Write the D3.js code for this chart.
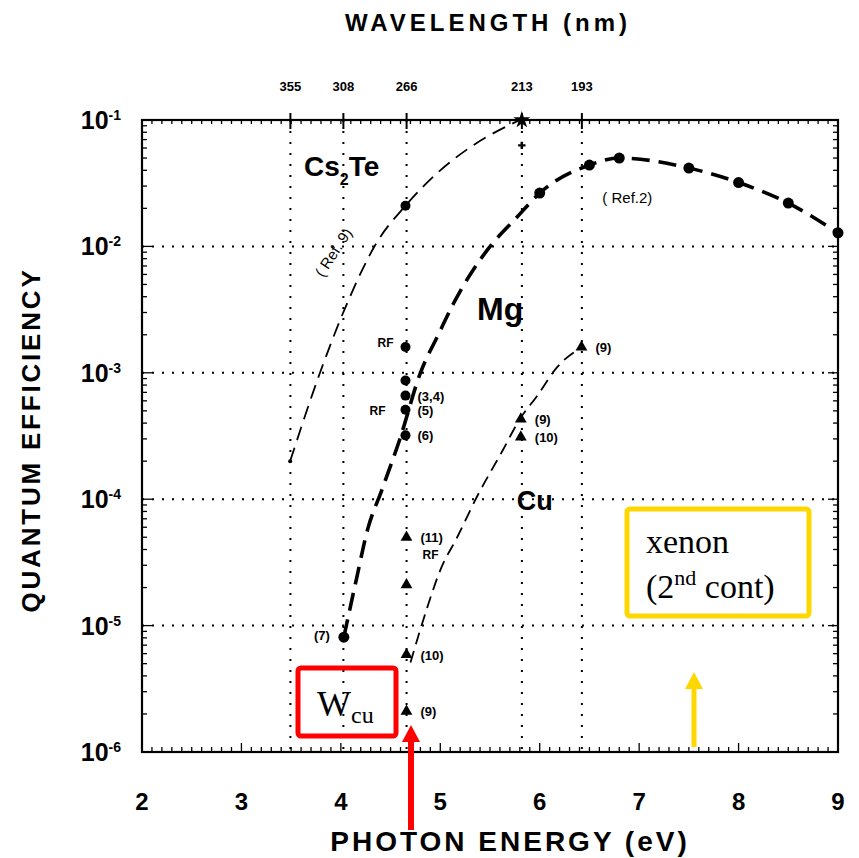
<!DOCTYPE html>
<html>
<head>
<meta charset="utf-8">
<script src="https://cdn.jsdelivr.net/npm/d3@7"></script>
<style>
  body { margin: 0; background: #fff; }
  svg { display: block; }
</style>
</head>
<body>
<div id="chart"></div>
<script>
// values (photon energy in eV, quantum efficiency)
const energyTicks = [2, 3, 4, 5, 6, 7, 8, 9];
const decades = [1e-6, 1e-5, 1e-4, 1e-3, 1e-2, 1e-1];
const decadeExp = [-6, -5, -4, -3, -2, -1];
const wavelengths = [355, 308, 266, 213, 193];

const cs2teCurve = [[3.49, 2.0e-4], [3.79, 1.0e-3], [4.06, 3.5e-3], [4.36, 1.07e-2],
  [4.65, 2.1e-2], [5.0, 4.0e-2], [5.33, 6.3e-2], [5.80, 1.0e-1]];
const cs2teDots = [[4.65, 2.1e-2]];
const cs2teCross = [[5.82, 6.3e-2]];
const cs2teStar = [[5.82, 1.0e-1]];
const cs2teStart = [[3.49, 2.0e-4]];

const mgCurve = [[4.03, 8.1e-6], [4.16, 2.4e-5], [4.27, 5.8e-5], [4.41, 1.17e-4], [4.60, 3.1e-4],
  [4.80, 1.0e-3], [4.98, 2.0e-3], [5.13, 3.5e-3], [5.47, 9.3e-3], [5.77, 1.7e-2],
  [6.0, 2.64e-2], [6.5, 4.4e-2], [6.8, 5.0e-2], [7.5, 4.17e-2], [8.0, 3.2e-2],
  [8.5, 2.2e-2], [9.0, 1.28e-2]];
const ref2Dots = [[6.0, 2.64e-2], [6.5, 4.4e-2], [6.8, 5.0e-2], [7.5, 4.17e-2],
  [8.0, 3.2e-2], [8.5, 2.2e-2], [9.0, 1.28e-2]];
const mgPoints = [[4.65, 1.6e-3, ""], [4.65, 8.7e-4, ""], [4.65, 6.6e-4, "(3,4)"],
  [4.65, 5.1e-4, "(5)"], [4.65, 3.2e-4, "(6)"]];
const mgLow = [[4.03, 8.1e-6, "(7)"]];

const cuCurve = [[4.70, 5.1e-6], [4.87, 1.4e-5], [5.0, 2.75e-5], [5.17, 5.0e-5], [5.37, 1.05e-4],
  [5.63, 2.45e-4], [5.80, 4.3e-4], [5.97, 6.5e-4], [6.18, 1.12e-3], [6.43, 1.6e-3]];
const cuPoints = [[4.66, 5.9e-6, "(10)"], [4.66, 2.1e-6, "(9)"], [4.66, 2.1e-5, ""],
  [4.66, 5.0e-5, "(11)"], [5.81, 4.3e-4, "(9)"], [5.81, 3.1e-4, "(10)"], [6.42, 1.6e-3, "(9)"]];

const W = 859, H = 858;
const sans = "'Liberation Sans', Arial, sans-serif";
const serif = "'Liberation Serif', 'Times New Roman', serif";

const x = d3.scaleLinear().domain([2, 9]).range([142, 838]);
const y = d3.scaleLog().domain([1e-6, 1e-1]).range([752, 120]);
const eV = (nm) => 1239.84 / nm;

const svg = d3.select("#chart").append("svg")
  .attr("width", W).attr("height", H);
svg.append("rect").attr("width", W).attr("height", H).attr("fill", "#fff");

const x0 = x.range()[0], x1 = x.range()[1];
const yTop = y.range()[1], yBot = y.range()[0];

// dotted grid
svg.append("g").selectAll("line").data(decades.slice(1, -1)).join("line")
  .attr("x1", x0).attr("x2", x1).attr("y1", d => y(d)).attr("y2", d => y(d))
  .attr("stroke", "#000").attr("stroke-width", 2).attr("stroke-dasharray", "2,8");
svg.append("g").selectAll("line").data(wavelengths).join("line")
  .attr("x1", d => x(eV(d))).attr("x2", d => x(eV(d))).attr("y1", yTop).attr("y2", yBot)
  .attr("stroke", "#000").attr("stroke-width", 2).attr("stroke-dasharray", "2,9");

// ticks (inward)
const minorE = d3.range(20, 91).map(d => d / 10);
const ticks = svg.append("g").attr("stroke", "#000").attr("stroke-width", 1.3);
ticks.selectAll(".bt").data(minorE).join("line")
  .attr("x1", d => x(d)).attr("x2", d => x(d))
  .attr("y1", yBot).attr("y2", d => yBot - (Math.abs(d - Math.round(d)) < 1e-6 ? 9 : 5));
ticks.selectAll(".tt").data(minorE).join("line")
  .attr("x1", d => x(d)).attr("x2", d => x(d))
  .attr("y1", yTop).attr("y2", yTop + 4);
ticks.selectAll(".tw").data(wavelengths).join("line")
  .attr("x1", d => x(eV(d))).attr("x2", d => x(eV(d)))
  .attr("y1", yTop - 7).attr("y2", yTop + 9).attr("stroke-width", 2);
const minorQ = [];
decades.slice(0, -1).forEach(d => { for (let k = 1; k < 10; k++) minorQ.push(d * k); });
minorQ.push(1e-1);
ticks.selectAll(".lt").data(minorQ).join("line")
  .attr("x1", x0).attr("x2", (d, i) => x0 + (i % 9 === 0 ? 10 : 5))
  .attr("y1", d => y(d)).attr("y2", d => y(d));
ticks.selectAll(".rt").data(minorQ).join("line")
  .attr("x1", x1).attr("x2", (d, i) => x1 - (i % 9 === 0 ? 10 : 5))
  .attr("y1", d => y(d)).attr("y2", d => y(d));

// frame
svg.append("rect").attr("x", x0).attr("y", yTop)
  .attr("width", x1 - x0).attr("height", yBot - yTop)
  .attr("fill", "none").attr("stroke", "#000").attr("stroke-width", 2.2);

// axis labels
svg.append("g").selectAll("text").data(energyTicks).join("text")
  .attr("x", d => x(d)).attr("y", 810).attr("text-anchor", "middle")
  .attr("font-family", sans).attr("font-weight", "bold").attr("font-size", 24)
  .text(d => d);
const yl = svg.append("g").selectAll("text").data(decades).join("text")
  .attr("x", 121).attr("y", d => y(d) + 9).attr("text-anchor", "end")
  .attr("font-family", sans).attr("font-weight", "bold").attr("font-size", 25);
yl.append("tspan").text("10");
yl.append("tspan").attr("dy", -9).attr("font-size", 14).text((d, i) => "-" + (-decadeExp[i]));
svg.append("g").selectAll("text").data(wavelengths).join("text")
  .attr("x", d => x(eV(d))).attr("y", 91).attr("text-anchor", "middle")
  .attr("font-family", sans).attr("font-weight", "bold").attr("font-size", 13)
  .text(d => d);

svg.append("text").attr("x", 488).attr("y", 31).attr("text-anchor", "middle")
  .attr("font-family", sans).attr("font-weight", "bold").attr("font-size", 24)
  .attr("letter-spacing", 4).text("WAVELENGTH (nm)");
svg.append("text").attr("x", 510).attr("y", 851).attr("text-anchor", "middle")
  .attr("font-family", sans).attr("font-weight", "bold").attr("font-size", 28)
  .attr("letter-spacing", 3).text("PHOTON ENERGY (eV)");
svg.append("text").attr("transform", "translate(40,440) rotate(-90)")
  .attr("text-anchor", "middle")
  .attr("font-family", sans).attr("font-weight", "bold").attr("font-size", 26)
  .attr("letter-spacing", 2.8).text("QUANTUM EFFICIENCY");

// curves
const line = d3.line().x(d => x(d[0])).y(d => y(d[1])).curve(d3.curveMonotoneX);
svg.append("path").datum(cs2teCurve).attr("d", line)
  .attr("fill", "none").attr("stroke", "#000").attr("stroke-width", 1.8)
  .attr("stroke-dasharray", "14,8");
svg.append("path").datum(mgCurve).attr("d", line)
  .attr("fill", "none").attr("stroke", "#000").attr("stroke-width", 3.6)
  .attr("stroke-dasharray", "18,9");
svg.append("path").datum(cuCurve).attr("d", line)
  .attr("fill", "none").attr("stroke", "#000").attr("stroke-width", 1.8)
  .attr("stroke-dasharray", "12,7");

// markers
const dot = (data, r) => svg.append("g").selectAll("circle").data(data).join("circle")
  .attr("cx", d => x(d[0])).attr("cy", d => y(d[1])).attr("r", r).attr("fill", "#000");
dot(ref2Dots, 5.5);
dot(cs2teDots, 5);
dot(mgPoints, 5);
dot(mgLow, 5.5);
dot(cs2teStart, 2);
svg.append("g").selectAll("path").data(cs2teCross).join("path")
  .attr("transform", d => `translate(${x(d[0])},${y(d[1])})`)
  .attr("d", d3.symbol(d3.symbolCross, 30)).attr("fill", "#000");
svg.append("g").selectAll("path").data(cs2teStar).join("path")
  .attr("transform", d => `translate(${x(d[0])},${y(d[1])})`)
  .attr("d", d3.symbol(d3.symbolStar, 90)).attr("fill", "#000");
svg.append("g").selectAll("path").data(cuPoints).join("path")
  .attr("transform", d => `translate(${x(d[0])},${y(d[1])})`)
  .attr("d", d3.symbol(d3.symbolTriangle, 60)).attr("fill", "#000");

// point labels
const small = (data, dx, dy) => svg.append("g").selectAll("text").data(data).join("text")
  .attr("x", d => x(d[0]) + dx).attr("y", d => y(d[1]) + dy)
  .attr("font-family", sans).attr("font-weight", "bold").attr("font-size", 13)
  .text(d => d[2]);
small(mgPoints, 12, 5);
small(cuPoints, 14, 5);
svg.append("g").selectAll("text").data(mgLow).join("text")
  .attr("x", d => x(d[0]) - 14).attr("y", d => y(d[1]) + 3).attr("text-anchor", "end")
  .attr("font-family", sans).attr("font-weight", "bold").attr("font-size", 13)
  .text(d => d[2]);
const rf = (ex, q, dx, dy) => svg.append("text")
  .attr("x", x(ex) + dx).attr("y", y(q) + dy)
  .attr("font-family", sans).attr("font-weight", "bold").attr("font-size", 12).text("RF");
rf(4.65, 1.6e-3, -28, 0);
rf(4.65, 5.1e-4, -36, 5);
rf(4.66, 5.0e-5, 16, 22);

// series names
const cs = svg.append("text").attr("x", x(3.63)).attr("y", y(3.6e-2))
  .attr("font-family", sans).attr("font-weight", "bold").attr("font-size", 28);
cs.append("tspan").text("Cs");
cs.append("tspan").attr("dy", 9).attr("font-size", 16).text("2");
cs.append("tspan").attr("dy", -9).text("Te");
svg.append("text").attr("x", x(5.37)).attr("y", y(2.6e-3))
  .attr("font-family", sans).attr("font-weight", "bold").attr("font-size", 32).text("Mg");
svg.append("text").attr("x", x(5.77)).attr("y", y(8.2e-5))
  .attr("font-family", sans).attr("font-weight", "bold").attr("font-size", 27).text("Cu");
svg.append("text").attr("x", x(6.63)).attr("y", y(2.2e-2))
  .attr("font-family", sans).attr("font-size", 15).text("( Ref.2)");
svg.append("text").attr("transform", `translate(${x(3.97)},${y(8.5e-3)}) rotate(-57)`)
  .attr("text-anchor", "middle")
  .attr("font-family", sans).attr("font-size", 15).text("( Ref. 9)");

// red box + arrow
svg.append("rect").attr("x", 298).attr("y", 668).attr("width", 98).attr("height", 68)
  .attr("rx", 3).attr("fill", "none").attr("stroke", "#ff0000").attr("stroke-width", 5);
const wt = svg.append("text").attr("x", 317).attr("y", 716)
  .attr("font-family", serif).attr("font-size", 36).attr("fill", "#000");
wt.append("tspan").text("W");
wt.append("tspan").attr("dy", 7).attr("font-size", 24).text("cu");
svg.append("line").attr("x1", 411).attr("x2", 411).attr("y1", 830).attr("y2", 738)
  .attr("stroke", "#ff0000").attr("stroke-width", 6);
svg.append("path").attr("d", "M402,742 L411,725 L420,742 Z").attr("fill", "#ff0000");

// yellow box + arrow
svg.append("rect").attr("x", 627).attr("y", 509).attr("width", 182).attr("height", 107)
  .attr("rx", 3).attr("fill", "none").attr("stroke", "#ffd700").attr("stroke-width", 5);
svg.append("text").attr("x", 646).attr("y", 553)
  .attr("font-family", serif).attr("font-size", 34).text("xenon");
const xt = svg.append("text").attr("x", 646).attr("y", 598)
  .attr("font-family", serif).attr("font-size", 34);
xt.append("tspan").text("(2");
xt.append("tspan").attr("dy", -13).attr("font-size", 22).text("nd");
xt.append("tspan").attr("dy", 13).text(" cont)");
svg.append("line").attr("x1", 694).attr("x2", 694).attr("y1", 747).attr("y2", 685)
  .attr("stroke", "#ffd700").attr("stroke-width", 5);
svg.append("path").attr("d", "M685,689 L694,672 L703,689 Z").attr("fill", "#ffd700");
</script>
</body>
</html>
